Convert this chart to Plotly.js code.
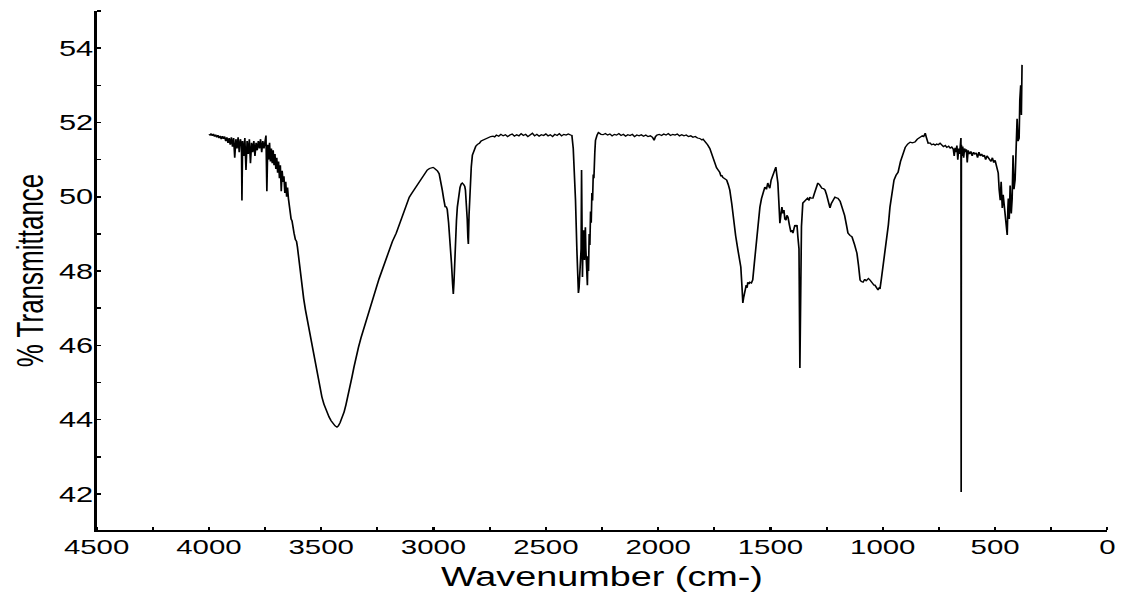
<!DOCTYPE html>
<html>
<head>
<meta charset="utf-8">
<script src="https://cdn.plot.ly/plotly-3.0.1.min.js"></script>
<style>
  html, body { margin: 0; padding: 0; background: #ffffff; }
  #wrap { width: 1127px; height: 592px; overflow: hidden; }
  #chart { width: 805px; height: 592px; transform: scaleX(1.4); transform-origin: 0 0; }
</style>
</head>
<body>
<div id="wrap"><div id="chart"></div></div>
<script>
// ---- data ----
const wavenumber = [
  4000,3995,3990,3985,3980,3975,3970,3965,3960,3955,3950,3945,3940,3935,3930,3925,3920,3915,3910,3905,
  3900,3895,3890,3885,3880,3875,3870,3865,3860,3855,3853,3850,3845,3840,3835,3830,3825,3820,3815,3810,
  3805,3800,3795,3790,3785,3780,3775,3770,3765,3760,3755,3750,3746,3742,3738,3734,3730,3726,3722,3718,
  3714,3710,3706,3702,3698,3694,3690,3686,3682,3678,3674,3670,3666,3662,3658,3654,3650,3646,3642,3638,
  3634,3630,3626,3621,3615,3610,3606,
  3600,3593,3586,3578,3570,3562,3554,3546,3538,3530,3523,3510,3497,3488,3480,3472,3465,3456,3448,3438,
  3430,3424,3416,3410,3404,3398,3390,3380,3372,3363,3354,3345,3334,3323,3311,3300,3289,3278,3266,3255,
  3242,3229,3215,3200,3183,3166,3153,3140,3124,3108,3096,3085,3074,3064,3054,3045,3036,3028,3018,3010,
  3002,2997,2990,2983,2975,2968,2961,2955,2950,2948,2944,2939,2933,2926,2920,2915,2912,2909,2906,2903,
  2898,2894,2888,2882,2877,2872,2866,2861,2858,2854,2850,2847,2845,2842,2839,2836,2832,2827,2820,2812,
  2804,2796,2788,2780,2772,2765,2755,2745,2735,2728,2720,
  2710,2700,2690,2680,2670,2660,2650,2640,2630,2620,2610,2600,2590,2580,2570,2560,2550,2540,2530,2520,
  2510,2500,2490,2480,2470,2460,2450,2440,2430,2420,2410,2400,2390,2384,2378,2372,2368,2362,2358,2355,
  2352,2349,2346,2343,2341,2339,2337,2335,2332,2330,2328,2326,2324,2322,2319,2317,2315,2313,2310,2307,
  2304,2301,2298,2295,2292,2289,2286,2282,2279,2272,2266,2261,2254,2245,2235,
  2225,2215,2205,2195,2185,2175,2165,2155,2145,2135,2125,2115,2105,2095,2085,2075,2065,2055,2045,2035,
  2025,2018,2012,2005,1995,1985,1975,1965,1955,1945,1935,1925,1915,1905,1895,1885,1875,1865,1855,1845,
  1835,1825,1815,1805,1800,1790,1780,1770,1762,1755,1748,1740,1733,1726,1720,1717,1712,1705,1695,1688,
  1681,1672,1664,1655,1645,1638,1632,1627,1623,1619,1614,1608,1604,1601,1596,1592,1585,1579,1572,1565,
  1561,1554,1547,1540,1533,1525,1518,1512,1507,1503,1497,1490,1484,1480,1476,1472,1467,1463,1458,1454,
  1449,1445,1440,1436,1431,1427,1422,1416,1409,1404,1400,1395,1391,1386,1382,1378,1373,1369,1366,1362,
  1356,1349,1342,1335,1328,1325,1318,1311,1304,1297,1289,1282,1276,1271,1264,1257,1250,1244,1240,1235,
  1229,1222,1218,1213,1206,1200,1190,1184,1177,1170,1162,1155,1146,1137,1126,1115,1108,1101,1095,1088,
  1080,1074,1070,1064,1057,1050,1044,1039,1035,1028,1021,1016,1012,1006,999,990,981,975,968,959,
  950,941,932,921,910,900,889,878,868,857,846,838,834,824,818,811,806,798,790,782,
  774,767,760,753,745,738,730,722,715,707,700,693,686,682,678,674,670,666,662,658,
  655,652,651,650,647,644,640,636,632,628,624,620,614,608,602,596,590,584,578,572,
  566,560,554,548,542,536,530,524,518,512,506,500,495,490,486,482,477,473,468,464,
  459,455,450,446,443,441,437,433,428,424,420,416,411,406,402,398,393,390,386,383,380
];
const transmittance = [
  51.68,51.66,51.70,51.64,51.69,51.62,51.67,51.60,51.66,51.58,51.64,51.55,51.63,51.56,51.62,51.50,51.60,51.45,51.58,51.40,
  51.60,51.35,51.58,51.05,51.55,51.30,51.60,51.20,51.55,51.40,49.90,51.50,51.10,51.58,50.72,51.50,51.15,51.55,50.90,51.45,
  51.20,51.50,51.10,51.45,51.25,51.50,51.30,51.55,51.20,51.50,51.30,51.60,51.65,50.15,51.40,51.00,51.45,50.95,51.30,50.90,
  51.25,50.85,51.15,50.75,51.05,50.65,50.95,50.50,50.85,50.15,50.70,50.40,50.55,50.10,50.40,50.00,50.25,49.95,49.70,49.60,
  49.40,49.35,49.15,49.02,48.85,48.80,48.65,
  48.30,47.90,47.49,47.25,46.95,46.68,46.41,46.15,45.90,45.66,45.42,45.00,44.61,44.42,44.28,44.16,44.07,43.97,43.90,43.83,
  43.80,43.83,43.92,44.00,44.10,44.21,44.40,44.65,44.90,45.15,45.42,45.70,45.95,46.20,46.45,46.70,46.92,47.14,47.36,47.55,
  47.80,48.03,48.28,48.55,48.80,49.02,49.25,49.50,49.76,49.99,50.10,50.20,50.31,50.40,50.50,50.60,50.67,50.72,50.76,50.78,
  50.79,50.77,50.74,50.70,50.62,50.45,50.18,49.95,49.78,49.72,49.74,49.66,49.30,48.83,48.20,47.65,47.38,47.70,48.30,48.83,
  49.35,49.72,50.05,50.25,50.34,50.37,50.33,50.28,50.18,49.91,49.40,48.90,48.73,49.50,50.05,50.37,50.80,51.12,51.27,51.36,
  51.41,51.44,51.50,51.52,51.55,51.58,51.60,51.62,51.63,51.61,51.66,
  51.63,51.68,51.64,51.67,51.62,51.66,51.69,51.63,51.67,51.64,51.70,51.65,51.68,51.62,51.67,51.71,51.64,51.68,51.63,51.67,
  51.65,51.69,51.64,51.67,51.62,51.68,51.65,51.70,51.64,51.68,51.66,51.69,51.66,51.65,51.30,50.60,49.91,48.60,47.80,47.41,
  47.55,48.10,48.30,48.60,50.72,48.90,47.84,48.60,49.10,48.40,48.30,48.90,49.18,48.60,47.76,47.90,47.62,48.40,48.00,49.00,
  48.70,49.60,49.30,50.10,49.90,50.60,50.50,51.20,51.52,51.66,51.73,51.71,51.68,51.67,51.70,
  51.66,51.69,51.64,51.68,51.66,51.70,51.65,51.68,51.63,51.67,51.65,51.68,51.62,51.66,51.64,51.67,51.63,51.66,51.62,51.64,
  51.60,51.52,51.62,51.66,51.68,51.65,51.69,51.66,51.70,51.65,51.68,51.66,51.69,51.64,51.67,51.64,51.66,51.62,51.64,51.60,
  51.62,51.58,51.57,51.53,51.55,51.48,51.40,51.30,51.15,51.00,50.90,50.78,50.72,50.66,50.55,50.58,50.52,50.48,50.45,50.33,
  50.18,49.80,49.29,48.95,48.57,48.30,48.11,47.60,47.14,47.30,47.49,47.62,47.55,47.70,47.65,47.70,47.68,47.76,48.20,48.70,
  49.02,49.40,49.72,49.95,50.10,50.26,50.20,50.37,50.28,50.23,50.45,50.58,50.65,50.72,50.80,50.60,50.37,49.90,49.29,49.50,
  49.72,49.55,49.64,49.40,49.37,49.50,49.45,49.25,49.05,49.10,49.02,49.15,49.24,49.20,49.24,48.92,48.60,45.39,47.20,49.20,
  49.83,49.88,49.91,49.96,49.90,49.99,49.96,49.96,50.10,50.25,50.37,50.33,50.27,50.23,50.22,50.18,50.05,49.91,49.80,49.70,
  49.82,49.91,49.96,49.99,49.97,49.96,49.88,49.78,49.64,49.50,49.25,49.02,48.96,48.92,48.72,48.48,48.15,47.76,47.72,47.70,
  47.78,47.74,47.76,47.80,47.76,47.70,47.66,47.62,47.62,47.55,47.49,47.55,47.54,47.80,48.11,48.45,48.83,49.25,49.72,50.10,
  50.45,50.58,50.66,50.95,51.18,51.33,51.42,51.47,51.45,51.47,51.55,51.58,51.61,51.64,51.62,51.71,51.60,51.44,51.45,51.40,
  51.42,51.39,51.42,51.40,51.44,51.38,51.35,51.38,51.33,51.36,51.31,51.34,51.28,51.10,51.32,51.20,51.38,51.00,51.30,51.15,
  51.35,51.58,42.05,51.40,51.10,51.35,51.05,51.30,51.20,51.28,50.92,51.25,51.15,51.22,51.10,51.20,51.15,51.18,51.05,51.20,
  51.10,51.15,51.08,51.12,51.00,51.10,51.05,51.02,50.95,51.05,50.92,50.98,50.85,50.70,50.64,50.20,49.91,50.40,49.70,50.05,
  49.76,49.50,49.40,48.97,49.70,49.95,49.40,50.30,49.55,49.95,51.12,50.20,50.45,51.60,52.10,51.50,51.58,52.60,53.00,52.20,53.55
];
const xTickValues = [4500, 4000, 3500, 3000, 2500, 2000, 1500, 1000, 500, 0];
const yTickValues = [42, 44, 46, 48, 50, 52, 54];
const xTitle = 'Wavenumber (cm-)';
const yTitle = '% Transmittance';

const FONT = 'Liberation Sans, Arial, Helvetica, sans-serif';

const trace = {
  x: wavenumber,
  y: transmittance,
  type: 'scatter',
  mode: 'lines',
  line: { color: '#000000', width: 1.2 },
  hoverinfo: 'x+y'
};

const layout = {
  width: 805,
  height: 592,
  margin: { l: 69, r: 14, t: 11, b: 62, pad: 0 },
  paper_bgcolor: '#ffffff',
  plot_bgcolor: '#ffffff',
  showlegend: false,
  font: { family: FONT, color: '#000000', size: 21 },
  xaxis: {
    range: [4500, 0],
    tickmode: 'array',
    tickvals: xTickValues,
    ticktext: xTickValues.map(String),
    ticks: '',
    ticklabelstandoff: -3,
    showline: true,
    linecolor: '#000000',
    linewidth: 2,
    showgrid: false,
    zeroline: false,
    tickfont: { family: FONT, size: 21, color: '#000000' },
    minor: { dtick: 250, tick0: 0, ticks: 'inside', ticklen: 3, tickwidth: 1.5, tickcolor: '#000000', showgrid: false },
    title: { text: xTitle, font: { family: FONT, size: 27, color: '#000000' }, standoff: 12 }
  },
  yaxis: {
    range: [41.03, 55.0],
    tickmode: 'array',
    tickvals: yTickValues,
    ticktext: yTickValues.map(String),
    ticks: '',
    ticklabelstandoff: -4,
    showline: true,
    linecolor: '#000000',
    linewidth: 2,
    showgrid: false,
    zeroline: false,
    tickfont: { family: FONT, size: 22, color: '#000000' },
    minor: { dtick: 1, tick0: 0, ticks: 'inside', ticklen: 3, tickwidth: 1.5, tickcolor: '#000000', showgrid: false },
    title: { text: yTitle, font: { family: FONT, size: 26, color: '#000000' }, standoff: 3 }
  }
};

Plotly.newPlot('chart', [trace], layout, { displayModeBar: false, staticPlot: true });
</script>
</body>
</html>
